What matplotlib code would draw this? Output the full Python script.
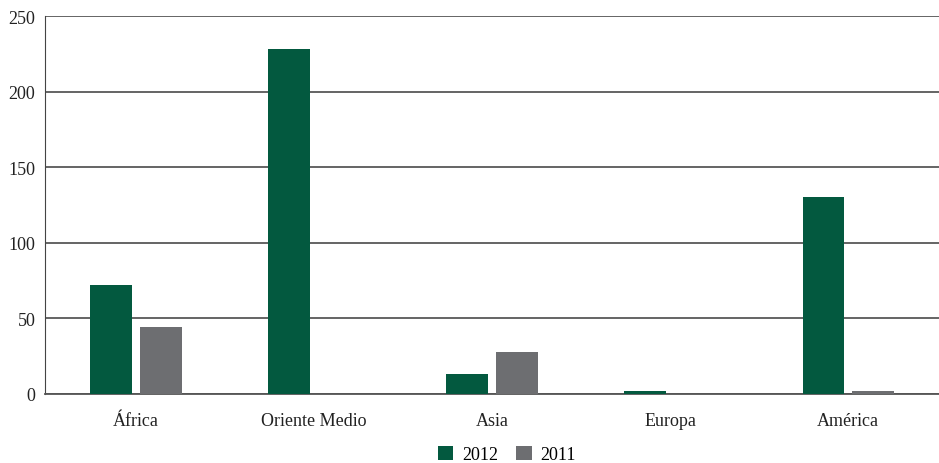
import numpy as np
import matplotlib
matplotlib.use("Agg")
import matplotlib.pyplot as plt

# Datos por región
regiones = ["África", "Oriente Medio", "Asia", "Europa", "América"]
valores_2012 = [72, 228, 13, 2, 130]
valores_2011 = [44, 0, 28, 0, 2]

color_2012 = "#03593f"
color_2011 = "#6d6e71"

plt.rcParams["font.family"] = ["Liberation Serif", "DejaVu Serif"]

fig = plt.figure(figsize=(9.39, 4.64), dpi=100)
ax = fig.add_axes([0.048, 0.149, 0.952, 0.814])

x = np.arange(len(regiones))
ancho = 0.233
ax.bar(x - 0.14, valores_2012, ancho, color=color_2012, label="2012", zorder=3)
ax.bar(x + 0.14, valores_2011, ancho, color=color_2011, label="2011", zorder=3)

ax.set_xlim(-0.51, 4.51)
ax.set_ylim(0, 250)
ax.set_yticks([0, 50, 100, 150, 200, 250])
ax.set_xticks(x)
ax.set_xticklabels(regiones)

ax.yaxis.grid(True, color="#3a3a3a", linewidth=1.1, zorder=0)
ax.set_axisbelow(True)
for lado in ["top", "right"]:
    ax.spines[lado].set_visible(False)
ax.spines["left"].set_color("#444444")
ax.spines["bottom"].set_color("#555555")
ax.spines["bottom"].set_linewidth(1.3)

ax.tick_params(axis="both", length=0, labelsize=13, colors="#222222")
ax.tick_params(axis="x", pad=13)
ax.tick_params(axis="y", pad=7)

fig.legend(loc="lower center", bbox_to_anchor=(0.54, -0.035), ncol=2,
           frameon=False, fontsize=13, handlelength=0.85, handleheight=0.85,
           handletextpad=0.5, columnspacing=1.0)

fig.savefig("out.png", dpi=100)
